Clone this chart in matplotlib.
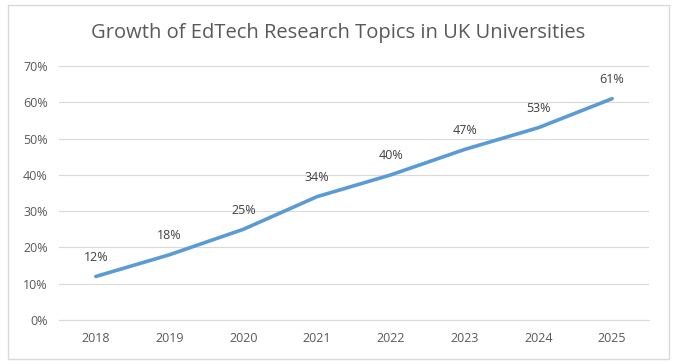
import matplotlib
matplotlib.use("Agg")
import matplotlib.pyplot as plt
from matplotlib.patches import Rectangle
from matplotlib.ticker import FuncFormatter

years = ["2018", "2019", "2020", "2021", "2022", "2023", "2024", "2025"]
values = [12, 18, 25, 34, 40, 47, 53, 61]
yticks = [0, 10, 20, 30, 40, 50, 60, 70]

plt.rcParams['font.family'] = ['Open Sans', 'DejaVu Sans']

W, H = 676, 364
fig = plt.figure(figsize=(W/100, H/100), dpi=100)
ax = fig.add_axes([59/W, 1-320/H, 590/W, 254/H])

x = list(range(len(years)))
ax.plot(x, values, color="#5B9BD5", lw=2.6, solid_capstyle="round", zorder=3)
for xi, v in zip(x, values):
    ax.annotate(f"{v}%", (xi, v), xytext=(0, 9), textcoords="offset points",
                ha="center", va="bottom", fontsize=9, color="#404040")

ax.set_xlim(-0.5, len(years)-0.5)
ax.set_ylim(0, 70)
ax.set_yticks(yticks)
ax.yaxis.set_major_formatter(FuncFormatter(lambda v, p: f"{int(v)}%"))
ax.set_xticks(x)
ax.set_xticklabels(years)
ax.grid(axis="y", color="#D9D9D9", lw=0.8)
ax.set_axisbelow(True)
for s in ["top", "right", "left"]:
    ax.spines[s].set_visible(False)
ax.spines["bottom"].set_color("#D9D9D9")
ax.tick_params(length=0, colors="#595959", labelsize=9)
ax.tick_params(axis="x", pad=9)
ax.tick_params(axis="y", pad=8)

fig.text(0.5, 1-33/H, "Growth of EdTech Research Topics in UK Universities",
         ha="center", va="center", fontsize=14.5, color="#595959")
fig.patches.append(Rectangle((7.5/W, 1-358.5/H), (668-7)/W, (358-4)/H, transform=fig.transFigure,
                             fill=False, edgecolor="#D9D9D9", lw=1))
fig.savefig("out.png", dpi=100)
